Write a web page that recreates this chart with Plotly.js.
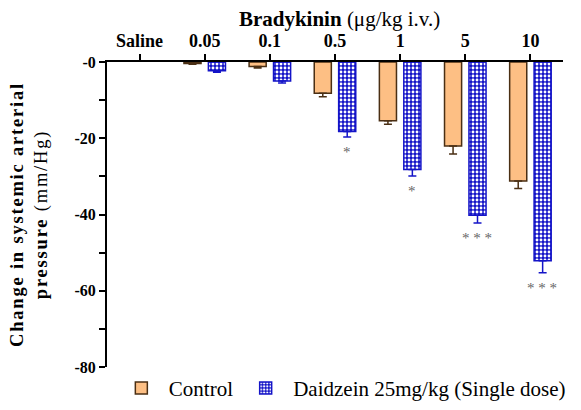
<!DOCTYPE html>
<html><head><meta charset="utf-8">
<script src="https://cdn.plot.ly/plotly-3.0.1.min.js"></script>
<style>body{margin:0;background:#fff}#c{width:581px;height:410px}
.g-ytitle text{letter-spacing:1.8px}
</style>
</head><body><div id="c"></div>
<script>
const categories = ["Saline","0.05","0.1","0.5","1","5","10"];
const controlVals = [null, -0.4, -1.2, -8.2, -15.4, -22.0, -31.2];
const controlErr  = [0, 0.2, 0.4, 0.9, 0.9, 2.1, 2.0];
const daidzeinVals = [null, -2.3, -5.0, -18.2, -28.2, -40.2, -52.1];
const daidzeinErr  = [0, 0.4, 0.5, 1.5, 1.7, 2.0, 3.2];
const significance = ["", "", "", "*", "*", "* * *", "* * *"];
const yTickVals = [0, -20, -40, -60, -80];
const yTickText = ["-0", "-20", "-40", "-60", "-80"];
const yMinorVals = [-10, -30, -50, -70];

const serif = "Liberation Serif, Times New Roman, serif";
const orange = "#fdbf84", brown = "#4a2f14", blue = "#1414c8";

const traces = [
  {type:"bar", name:"Control", x:categories, y:controlVals,
   marker:{color:orange, line:{color:brown, width:1.5}},
   error_y:{type:"data", symmetric:false, array:controlVals.map(()=>0), arrayminus:controlErr, color:brown, thickness:1.5, width:4}},
  {type:"bar", name:"Daidzein 25mg/kg (Single dose)", x:categories, y:daidzeinVals,
   marker:{color:blue, line:{color:blue, width:1.5},
     pattern:{shape:".", fillmode:"replace", bgcolor:blue, fgcolor:"#ffffff", size:4, solidity:0.4}},
   error_y:{type:"data", symmetric:false, array:daidzeinVals.map(()=>0), arrayminus:daidzeinErr, color:blue, thickness:1.5, width:4}}
];

const annotations = [];
categories.forEach((c,i)=>{
  if(significance[i]) annotations.push({x:i, y:daidzeinVals[i]-daidzeinErr[i], xref:"x", yref:"y",
    text:significance[i], showarrow:false, xshift:12, yshift:-5, yanchor:"top",
    font:{family:serif, size:15, color:"#666666"}});
});

const layout = {
  width:581, height:410,
  margin:{l:107, r:18, t:62, b:43, autoexpand:false},
  paper_bgcolor:"#fff", plot_bgcolor:"#fff",
  font:{family:serif, color:"#000"},
  barmode:"group", bargap:0.25, bargroupgap:0.3,
  title:{text:"<b>Bradykinin</b> (μg/kg i.v.)", x:0.51, xref:"paper", y:0.955, yref:"container", yanchor:"middle", font:{family:serif, size:21, color:"#000"}},
  xaxis:{type:"category", side:"top", showline:true, linecolor:"#000", linewidth:2,
    ticks:"outside", ticklen:6, tickwidth:2, tickcolor:"#000", showgrid:false, zeroline:false,
    tickfont:{family:serif, size:18, color:"#000", weight:"bold"}, range:[-0.5, 6.5]},
  yaxis:{range:[-80, 0], showline:true, linecolor:"#000", linewidth:2, showgrid:false, zeroline:false,
    ticks:"outside", ticklen:6, tickwidth:2, tickcolor:"#000",
    tickmode:"array", tickvals:yTickVals, ticktext:yTickText,
    tickfont:{family:serif, size:16, color:"#000", weight:"bold"},
    minor:{tickmode:"array", tickvals:yMinorVals, ticks:"outside", ticklen:6, tickwidth:2, tickcolor:"#000", showgrid:false},
    title:{text:"<b>Change in systemic arterial</b><br><b>pressure</b> (mm/Hg)", font:{family:serif, size:18.5, color:"#000"}, standoff:22}},
  showlegend:true,
  legend:{orientation:"h", x:0.015, xanchor:"left", y:-0.07, yanchor:"middle", font:{family:serif, size:21, color:"#000"}, traceorder:"normal", itemwidth:45},
  annotations:annotations
};
Plotly.newPlot("c", traces, layout, {displayModeBar:false, staticPlot:true});
</script>
</body></html>
